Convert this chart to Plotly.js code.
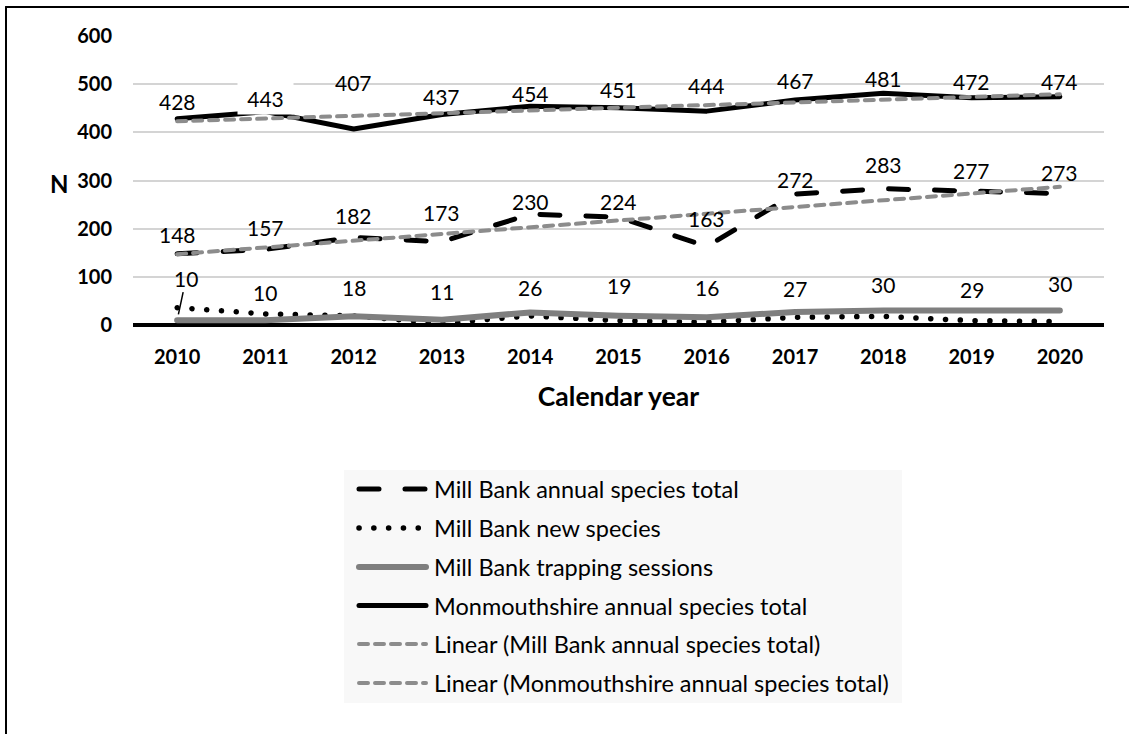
<!DOCTYPE html>
<html>
<head>
<meta charset="utf-8">
<script src="https://cdn.plot.ly/plotly-3.0.1.min.js"></script>
<style>
  html, body { margin: 0; padding: 0; background: #fff; }
  #chart { width: 1129px; height: 734px; }
  /* rounded dash ends and joins, so dotted lines draw as dots */
  #chart .js-line, #chart .shapelayer path { stroke-linecap: round; stroke-linejoin: round; }
</style>
</head>
<body>
<div id="chart"></div>
<script>
// ---- data ----
const years = ['2010', '2011', '2012', '2013', '2014', '2015', '2016', '2017', '2018', '2019', '2020'];
const millBankTotal = [148, 157, 182, 173, 230, 224, 163, 272, 283, 277, 273];
const millBankNew = [36, 23, 19, 3, 19, 9, 6, 16, 18, 9, 7];
const millBankSessions = [10, 10, 18, 11, 26, 19, 16, 27, 30, 29, 30];
const monmouthshireTotal = [428, 443, 407, 437, 454, 451, 444, 467, 481, 472, 474];
// linear trend values at the first and last year
const trendYears = ['2010', '2020'];
const millBankTrend = [147, 287];
const monmouthshireTrend = [423, 479];
const yTicks = [0, 100, 200, 300, 400, 500, 600];

// ---- geometry of the plotting area (pixels) ----
const W = 1129, H = 734;
const PLOT = { left: 133, right: 1104, top: 36, bottom: 325 };
const px = v => (v - PLOT.left) / (PLOT.right - PLOT.left);
const py = v => (PLOT.bottom - v) / (PLOT.bottom - PLOT.top);

const FONT = 'Lato, Carlito, Calibri, "Liberation Sans", sans-serif';

// ---- series ----
const series = [
  { name: 'Mill Bank annual species total', x: years, y: millBankTotal,
    line: { color: '#000000', width: 5, dash: '20px,26px' } },
  { name: 'Mill Bank new species', x: years, y: millBankNew,
    line: { color: '#000000', width: 5.5, dash: '0.1px,14.7px' } },
  { name: 'Mill Bank trapping sessions', x: years, y: millBankSessions,
    line: { color: '#7f7f7f', width: 6 } },
  { name: 'Monmouthshire annual species total', x: years, y: monmouthshireTotal,
    line: { color: '#000000', width: 5 } },
  { name: 'Linear (Mill Bank annual species total)', x: trendYears, y: millBankTrend,
    line: { color: '#8c8c8c', width: 4, dash: '9px,7px' } },
  { name: 'Linear (Monmouthshire annual species total)', x: trendYears, y: monmouthshireTrend,
    line: { color: '#8c8c8c', width: 4, dash: '9px,7px' } }
];

const traces = series.map(s => ({
  type: 'scatter', mode: 'lines', name: s.name, x: s.x, y: s.y,
  line: s.line, hoverinfo: 'skip', showlegend: false
}));

// ---- value labels: how far (px) each label sits above its point ----
const labelSets = [
  { values: monmouthshireTotal, lift: [17, 13, 46, 18, 13, 18, 26, 20, 15, 16, 15], boxed: [1] },
  { values: millBankTotal, lift: [19, 22, 22, 29, 13, 16, 28, 14, 24, 21, 21], boxed: [] },
  { values: millBankSessions, lift: [42, 28, 29, 28, 25, 30, 30, 24, 26, 22, 27], boxed: [], leader: [0] }
];

const annotations = [];
labelSets.forEach(set => {
  set.values.forEach((v, i) => {
    // x is given as the category's position index on the category axis
    const a = {
      x: i, y: v, xref: 'x', yref: 'y', text: String(v),
      font: { family: FONT, size: 21, color: '#000' }, showarrow: false,
      yshift: set.lift[i]
    };
    if (set.boxed.includes(i)) {
      a.bgcolor = '#ffffff'; a.width = 53; a.height = 29;
    }
    if (set.leader && set.leader.includes(i)) {
      delete a.yshift;
      a.showarrow = true; a.arrowhead = 0; a.arrowwidth = 1.5; a.arrowcolor = '#000';
      a.axref = 'pixel'; a.ayref = 'pixel';
      a.ax = 9; a.ay = -set.lift[i]; a.standoff = 6;
    }
    annotations.push(a);
  });
});

// y-axis caption
annotations.push({
  xref: 'paper', yref: 'paper', x: px(48), y: py(183), text: 'N', showarrow: false,
  font: { family: FONT, size: 24, color: '#000', weight: 'bold' }
});

// ---- legend panel ----
const LEG = { left: 344, right: 902, top: 470, bottom: 703, symX0: 359, symX1: 426, textX: 432,
              rows: [489, 528, 567, 605.5, 644, 683] };
const shapes = [
  // outer frame (top and left edges)
  { type: 'line', xref: 'paper', yref: 'paper', x0: px(6), x1: px(W), y0: py(7), y1: py(7),
    line: { color: '#000', width: 2 } },
  { type: 'line', xref: 'paper', yref: 'paper', x0: px(6), x1: px(6), y0: py(7), y1: py(H),
    line: { color: '#000', width: 2 } },
  // legend background
  { type: 'rect', xref: 'paper', yref: 'paper', x0: px(LEG.left), x1: px(LEG.right),
    y0: py(LEG.bottom), y1: py(LEG.top), fillcolor: '#f8f8f8', line: { width: 0 } }
];
series.forEach((s, i) => {
  const yy = py(LEG.rows[i]);
  shapes.push({ type: 'line', xref: 'paper', yref: 'paper',
    x0: px(LEG.symX0), x1: px(LEG.symX1), y0: yy, y1: yy, line: s.line });
  annotations.push({ xref: 'paper', yref: 'paper', x: px(LEG.textX), y: yy,
    xanchor: 'left', yanchor: 'middle', text: s.name, showarrow: false,
    font: { family: FONT, size: 23.5, color: '#000' } });
});

const layout = {
  width: W, height: H,
  margin: { l: PLOT.left, r: W - PLOT.right, t: PLOT.top, b: H - PLOT.bottom, pad: 0 },
  paper_bgcolor: '#ffffff', plot_bgcolor: '#ffffff',
  font: { family: FONT, color: '#000' },
  showlegend: false,
  xaxis: {
    type: 'category', range: [-0.5, 10.5], showgrid: false, zeroline: false, showline: false,
    ticks: '', ticklabelstandoff: 18,
    tickfont: { family: FONT, size: 20, color: '#000', weight: 'bold' },
    title: { text: 'Calendar year', standoff: 20,
             font: { family: FONT, size: 26.5, color: '#000', weight: 'bold' } },
    fixedrange: true
  },
  yaxis: {
    range: [0, 600], tickvals: yTicks, showgrid: true, gridcolor: '#d4d4d4', gridwidth: 2,
    zeroline: true, zerolinecolor: '#000', zerolinewidth: 4, showline: false,
    ticks: '', ticklabelstandoff: 20,
    tickfont: { family: FONT, size: 20, color: '#000', weight: 'bold' },
    fixedrange: true
  },
  shapes: shapes,
  annotations: annotations
};

Plotly.newPlot('chart', traces, layout, { staticPlot: true, displayModeBar: false });
</script>
</body>
</html>
